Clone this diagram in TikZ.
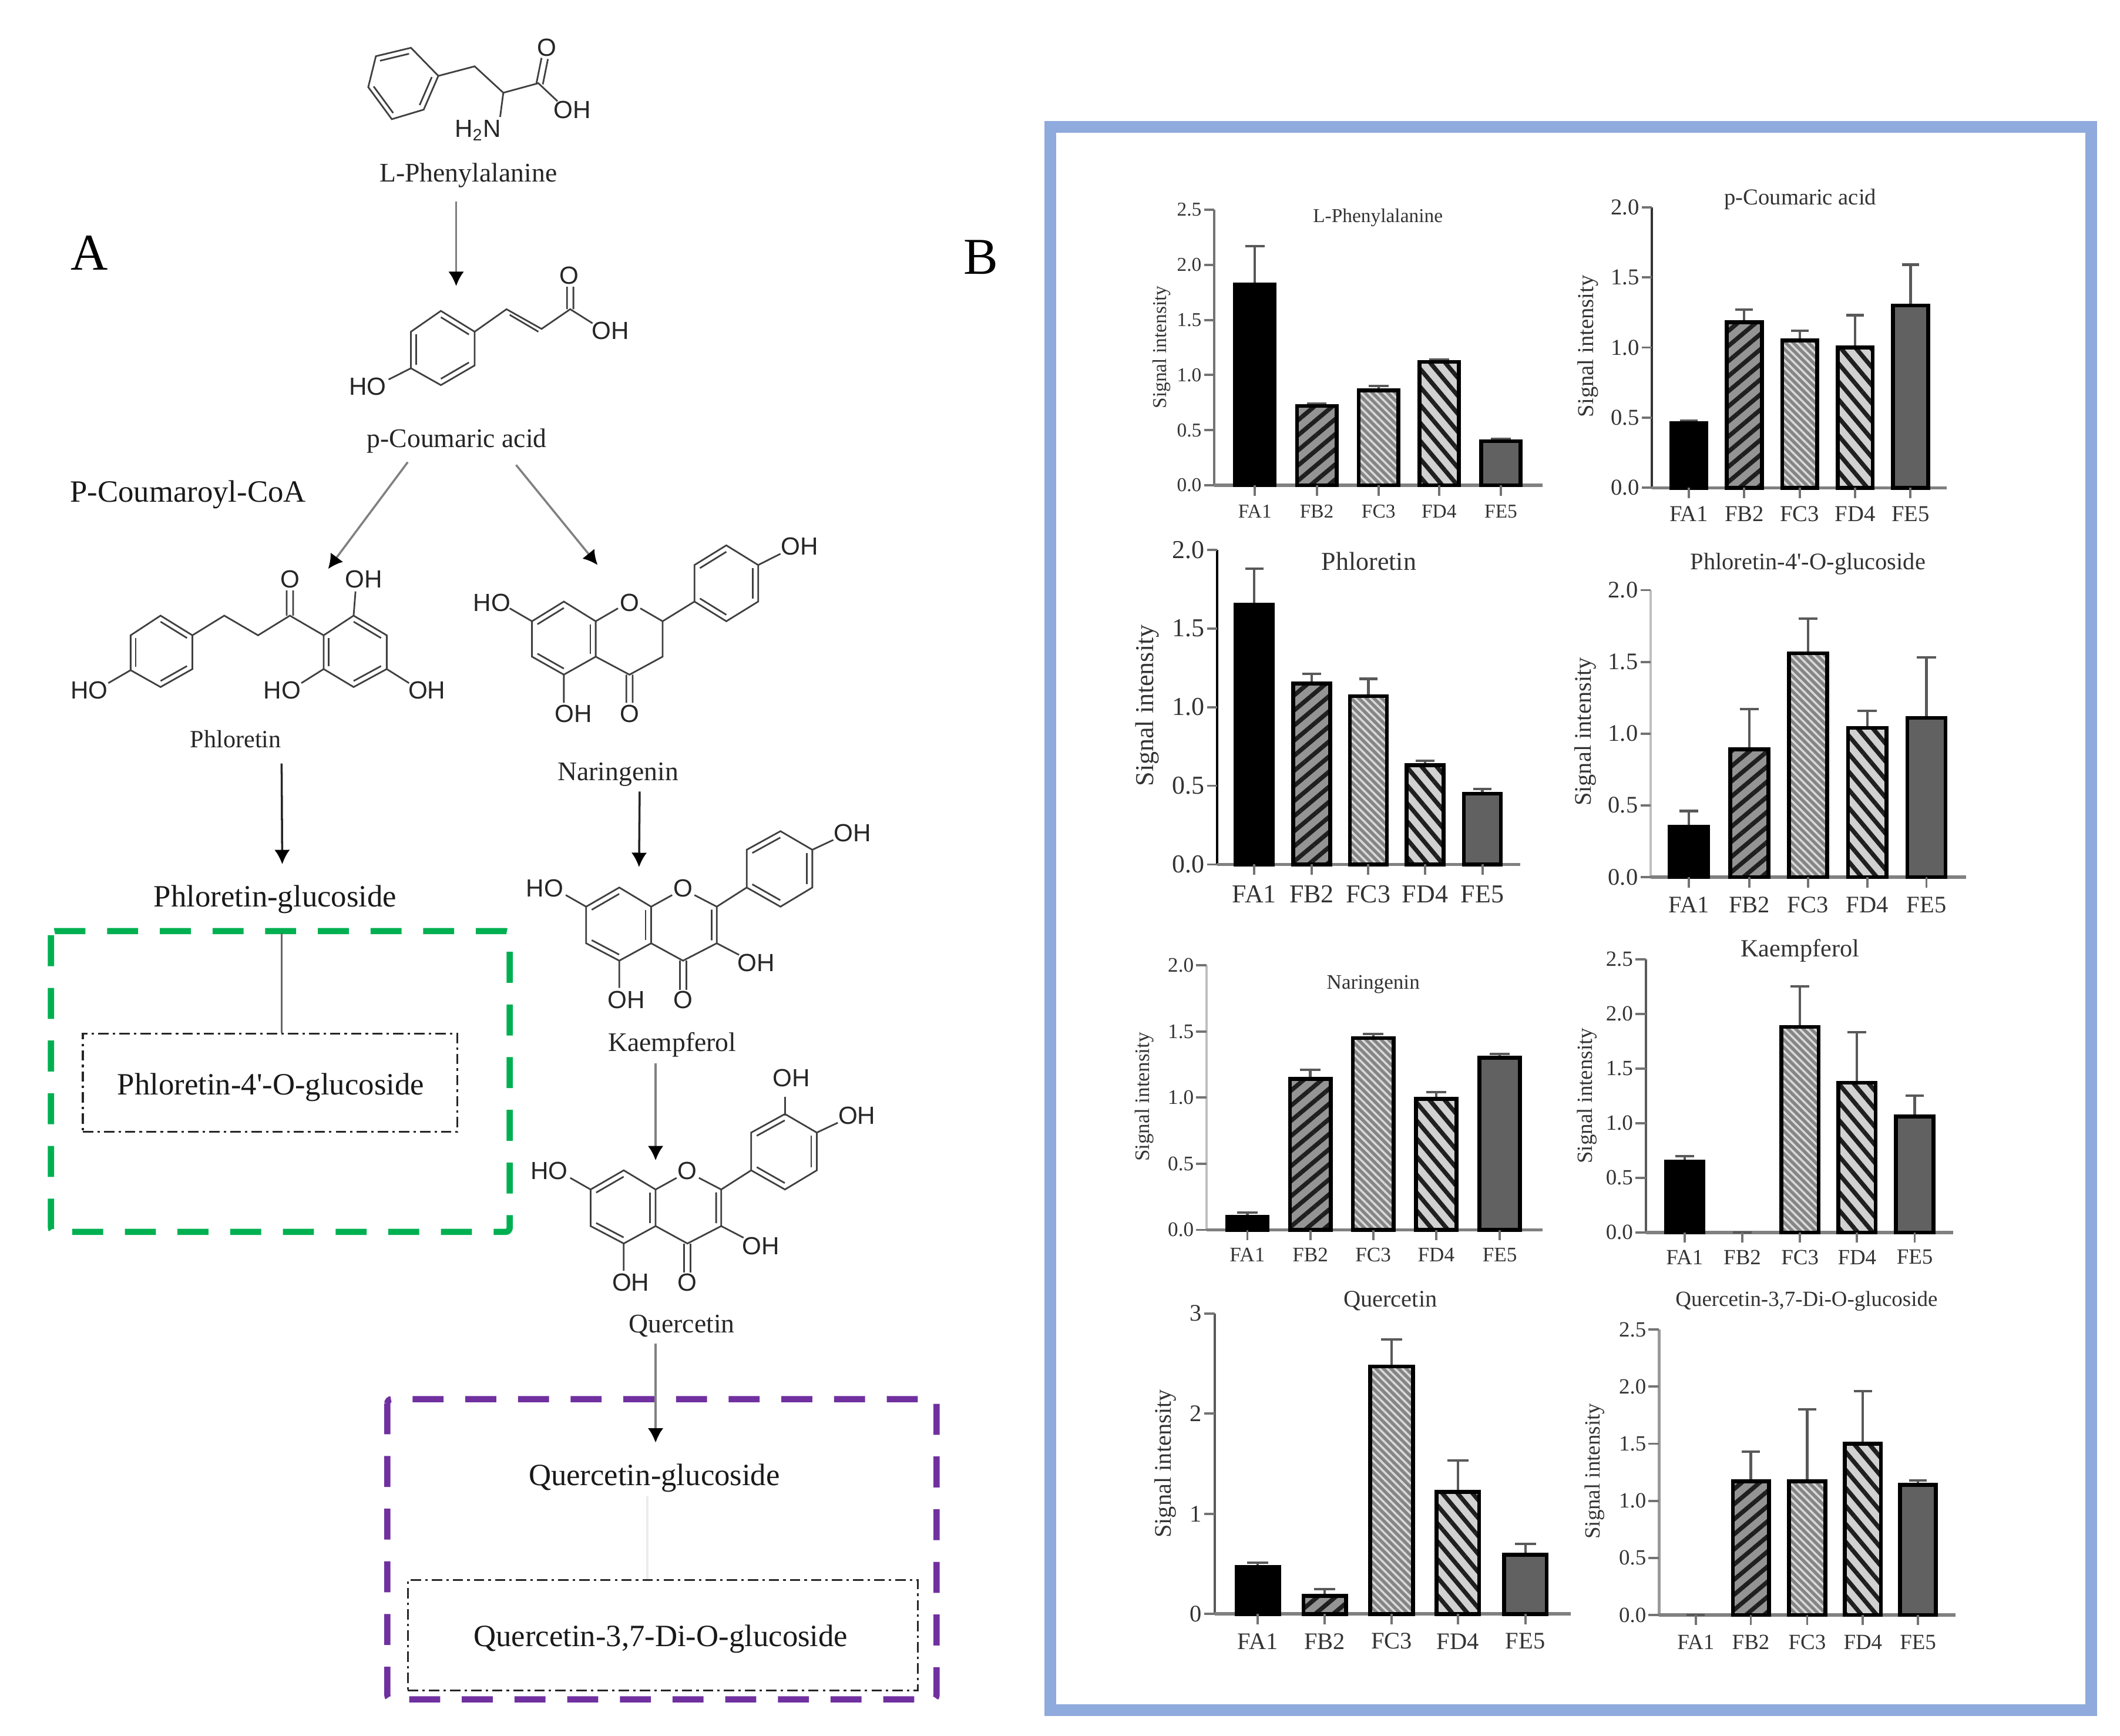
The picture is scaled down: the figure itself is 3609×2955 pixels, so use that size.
\documentclass[tikz,border=0pt]{standalone}
\usepackage{fontspec}
\setmainfont{Liberation Serif}[Ligatures=TeXOff]
\newfontfamily\atomfont{Liberation Sans}
\usetikzlibrary{calc,fit,patterns.meta,arrows.meta}
\definecolor{frameblue}{HTML}{8FAADC}
\definecolor{boxgreen}{HTML}{00B050}
\definecolor{boxpurple}{HTML}{7030A0}
\tikzset{
  bondline/.style={draw=black!75,line width=.8pt},
  atom/.style={font=\atomfont\fontsize{12}{12}\selectfont,inner sep=0pt,text=black!85},
  molname/.style={font=\fontsize{13}{13}\selectfont,inner sep=1pt,text=black!85,yshift=-1.2pt},
  bigname/.style={font=\fontsize{15}{15}\selectfont,inner sep=1pt,text=black!90,yshift=-1.2pt},
  arrline/.style={draw=black!50,line width=1pt,-{Latex[black,length=7pt,width=7.5pt]}},
  dotbox/.style={draw=black!85,dash pattern=on 5pt off 2pt on 1.2pt off 2pt,line width=.9pt,inner sep=0pt},
  chtext/.style={font=\fontsize{\chsz}{\chsz}\selectfont,text=black!80,inner sep=1pt},
  axisline/.style={draw=black!50,line width=1.6pt},
  yaxisline/.style={draw=black!55,line width=1.1pt},
  tickline/.style={draw=black!55,line width=1.1pt},
  errline/.style={draw=black!65,line width=1.2pt},
  fbar1/.style={draw=black,line width=1.9pt,fill=black},
  fbar2/.style={draw=black,line width=1.9pt,preaction={fill=black!42},pattern={Lines[angle=40,distance=5.6pt,line width=2.1pt]},pattern color=black!88},
  fbar3/.style={draw=black,line width=1.9pt,preaction={fill=black!48},pattern={Lines[angle=-45,distance=2.6pt,line width=1pt]},pattern color=black!15},
  fbar4/.style={draw=black,line width=1.9pt,preaction={fill=black!18},pattern={Lines[angle=-50,distance=5.6pt,line width=2.1pt]},pattern color=black!88},
  fbar5/.style={draw=black,line width=1.9pt,fill=black!62},
}
% hexagon with three inner bonds
\newcommand{\benzring}[6]{
  \coordinate (rc) at ($#1!.5!#4$);
  \draw[bondline] #1 -- #2 -- #3 -- #4 -- #5 -- #6 -- cycle;
  \draw[bondline] ($#1!.17!(rc)$) -- ($#2!.17!(rc)$);
  \draw[bondline] ($#3!.17!(rc)$) -- ($#4!.17!(rc)$);
  \draw[bondline] ($#5!.17!(rc)$) -- ($#6!.17!(rc)$);
}
% skeleton shared by Kaempferol and Quercetin
\newcommand{\flavonol}[1]{
  \benzring{(920,145)}{(972,112)}{(1022,145)}{(1022,208)}{(972,238)}{(920,208)}
  \benzring{(1172,47)}{(1225,15)}{(1275,47)}{(1275,112)}{(1225,145)}{(1172,112)}
  \draw[bondline] (920,145) -- (888,125) (1022,145) -- (1055,125) (1090,125) -- (1125,145) -- (1125,208) -- (1072,238) -- (1022,208);
  \draw[bondline] (1117,150) -- (1117,203) (1125,145) -- (1172,112) (1125,208) -- (1160,228) (972,238) -- (972,285) (1275,47) -- (1308,30);
  \draw[bondline] (1067,238) -- (1067,288) (1077,238) -- (1077,288);
  \node[atom] (#1ho) at (855,113) {HO};
  \node[atom] (#1o) at (1072,113) {O};
  \node[atom] (#1oh) at (983,305) {OH};
  \node[atom] (#1ok) at (1072,305) {O};
  \node[atom] (#1oh2) at (1187,242) {OH};
  \node[atom] (#1oh3) at (1338,18) {OH};
}
% axes of one chart: name, x0, ytop, ybase, xend, ymax, ticks, font size
\newcommand{\sigaxes}[8]{
  \def\chn{#1}\def\chy{#4}\def\chsz{#8}
  \pgfmathsetmacro\chs{(#4-#3)/#6}
  \draw[yaxisline] (#2,#3) -- (#2,#4);
  \draw[axisline] (#2,#4) -- (#5,#4);
  \foreach \tickv/\tickl [count=\i] in {#7}{
    \pgfmathsetmacro\yt{#4-\tickv*\chs}
    \draw[tickline] (#2,\yt) -- (#2-16,\yt);
    \node[chtext,left] (#1t\i) at (#2-16,\yt) {\tickl};
  }
}
% bars of one chart: bar width, label y, x/value/error top
\newcommand{\sigbars}[3]{
  \foreach \xc/\val/\err [count=\i] in {#3}{
    \pgfmathsetmacro\ybar{\chy-\val*\chs}
    \pgfmathsetmacro\yerr{\chy-\err*\chs}
    \pgfmathsetmacro\xl{\xc-#1/2}
    \pgfmathsetmacro\xr{\xc+#1/2}
    \draw[errline] (\xc,\ybar) -- (\xc,\yerr) (\xc-#1/4,\yerr) -- (\xc+#1/4,\yerr);
    \ifdim\val pt>0pt \draw[fbar\i] (\xl,\chy) rectangle (\xr,\ybar); \fi
    \draw[tickline] (\xc,\chy) -- (\xc,\chy+20);
    \node[chtext] (\chn\i) at (\xc,#2) {\ifcase\i\or FA1\or FB2\or FC3\or FD4\or FE5\fi};
  }
}
\begin{document}
\begin{tikzpicture}[x=.01cm,y=-.01cm]
\useasboundingbox (0,0) rectangle (3609,2955);

% pathway, upper part
\begin{scope}[xscale=1.0846,yscale=.957]
\node[font=\fontsize{25}{25}\selectfont] (nA) at (140,450) {A};
\node[font=\fontsize{25}{25}\selectfont] (nB) at (1540,458) {B};
\benzring{(590,100)}{(645,85)}{(688,135)}{(665,195)}{(615,212)}{(578,155)}
\draw[bondline] (688,135) -- (745,118) -- (790,165) -- (845,148) -- (875,180) (790,165) -- (785,208);
\draw[bondline] (842,148) -- (850,103) (852,150) -- (860,105);
\node[atom] (phO) at (858,85) {O};
\node[atom] (phOH) at (898,195) {OH};
\node[atom] (phN) at (750,232) {H\textsubscript{2}N};
\node[molname] (nPhe) at (735,308) {L-Phenylalanine};

\benzring{(692,553)}{(745,590)}{(745,650)}{(692,685)}{(645,655)}{(645,590)}
\draw[bondline] (745,590) -- (795,550) -- (850,585) -- (895,550) -- (930,575) (645,655) -- (610,675);
\draw[bondline] (800,560) -- (845,590) (890,550) -- (890,510) (900,550) -- (900,510);
\node[atom] (cuO) at (893,490) {O};
\node[atom] (cuOH) at (958,588) {OH};
\node[atom] (cuHO) at (577,688) {HO};
\node[molname] (nCou) at (717,780) {p-Coumaric acid};
\node[bigname] (nCoA) at (295,875) {P-Coumaroyl-CoA};

\benzring{(252,1095)}{(302,1130)}{(302,1190)}{(252,1222)}{(205,1192)}{(205,1130)}
\benzring{(555,1095)}{(607,1130)}{(607,1190)}{(555,1222)}{(508,1190)}{(508,1130)}
\draw[bondline] (302,1130) -- (352,1095) -- (405,1130) -- (455,1095) -- (508,1130) (205,1192) -- (170,1215);
\draw[bondline] (450,1095) -- (450,1050) (460,1095) -- (460,1050) (555,1095) -- (558,1052) (508,1190) -- (473,1215) (607,1190) -- (642,1215);
\node[atom] (plO) at (455,1030) {O};
\node[atom] (plOH) at (571,1030) {OH};
\node[atom] (plHO) at (140,1228) {HO};
\node[atom] (plHO2) at (443,1228) {HO};
\node[atom] (plOH2) at (670,1228) {OH};
\node[molname,font=\fontsize{12}{12}\selectfont] (nPhl) at (370,1310) {Phloretin};

\benzring{(835,1105)}{(885,1070)}{(935,1105)}{(935,1168)}{(885,1200)}{(835,1168)}
\benzring{(1090,1005)}{(1140,970)}{(1190,1005)}{(1190,1070)}{(1140,1105)}{(1090,1070)}
\draw[bondline] (835,1105) -- (800,1082) (935,1105) -- (970,1082) (1005,1082) -- (1040,1105) -- (1040,1168) -- (988,1200) -- (935,1168);
\draw[bondline] (983,1200) -- (983,1250) (993,1200) -- (993,1250) (885,1200) -- (885,1250) (1040,1105) -- (1090,1070) (1190,1005) -- (1225,985);
\node[atom] (naHO) at (772,1072) {HO};
\node[atom] (naO) at (988,1072) {O};
\node[atom] (naOH) at (900,1270) {OH};
\node[atom] (naOk) at (988,1270) {O};
\node[atom] (naOH2) at (1255,972) {OH};
\node[molname] (nNar) at (970,1373) {Naringenin};

\coordinate (a1s) at (716,358);
\coordinate (a1e) at (716,509);
\coordinate (a2s) at (640,822);
\coordinate (a2e) at (515,1012);
\coordinate (a3s) at (810,827);
\coordinate (a3e) at (938,1005);
\coordinate (a4s) at (442,1358);
\coordinate (a5s) at (1004,1408);
\end{scope}

% pathway, lower part
\begin{scope}[shift={(0,1400)},xscale=1.0846,yscale=.9885]
\coordinate (a4e) at (443,72);
\coordinate (a5e) at (1003,77);
\node[bigname] (nPhG) at (432,128) {Phloretin-glucoside};
\draw[boxgreen,line width=3pt,dash pattern=on 15pt off 10.5pt,rounded corners=2pt] (80,187) rectangle (800,705);
\coordinate (g1) at (130,364);
\coordinate (g2) at (718,533);
\node[dotbox,fit=(g1)(g2)] (bPh4) {};
\node[bigname] (nPh4) at (425,452) {Phloretin-4'-O-glucoside};
\coordinate (l1s) at (442,190);
\draw[draw=black!60,line width=1pt] (l1s) -- (l1s |- bPh4.north);

\flavonol{ka}
\node[molname] (nKae) at (1055,378) {Kaempferol};
\begin{scope}[shift={(7,487)}]
\flavonol{qu}
\end{scope}
\draw[bondline] (1232,505) -- (1232,472);
\node[atom] (quOH4) at (1242,440) {OH};
\node[molname] (nQue) at (1070,863) {Quercetin};
\coordinate (a6s) at (1029,415);
\coordinate (a6e) at (1029,582);
\coordinate (a7s) at (1029,897);
\coordinate (a7e) at (1029,1068);

\draw[boxpurple,line width=3pt,dash pattern=on 15pt off 10.5pt,rounded corners=2pt] (608,993) rectangle (1470,1510);
\node[bigname] (nQuG) at (1027,1125) {Quercetin-glucoside};
\coordinate (p1) at (640,1305);
\coordinate (p2) at (1440,1495);
\node[dotbox,fit=(p1)(p2)] (bQu3) {};
\node[bigname] (nQu3) at (1037,1402) {Quercetin-3,7-Di-O-glucoside};
\coordinate (l2s) at (1016,1160);
\draw[draw=black!8,line width=1pt] (l2s) -- (l2s |- bQu3.north);
\end{scope}

\draw[arrline] (a1s) -- (a1e);
\draw[arrline] (a2s) -- (a2e);
\draw[arrline] (a3s) -- (a3e);
\draw[arrline,draw=black!85] (a4s) -- (a4e);
\draw[arrline,draw=black!85] (a5s) -- (a5e);
\draw[arrline] (a6s) -- (a6e);
\draw[arrline] (a7s) -- (a7e);

% panel B
\draw[frameblue,line width=5.6pt] (1788,216) rectangle (3560,2911);

\begin{scope}[shift={(1850,250)},xscale=1.0846,yscale=.8929]
\sigaxes{c1}{200}{120}{645}{715}{2.5}{0/0.0,0.5/0.5,1/1.0,1.5/1.5,2/2.0,2.5/2.5}{9.5}
\sigbars{62}{695}{264/1.82/2.17,361/.72/.74,458/.86/.90,553/1.12/1.14,650/.40/.42}
\node[chtext,yshift=-.8pt] (c1title) at (457,132) {L-Phenylalanine};
\node[chtext,rotate=90] (c1y) at (118,382) {Signal intensity};

\tikzset{yaxisline/.style={draw=black!80,line width=1.1pt}}
\sigaxes{c2}{887}{115}{650}{1350}{2}{0/0.0,0.5/0.5,1/1.0,1.5/1.5,2/2.0}{11}
\sigbars{55}{700}{945/.46/.48,1032/1.18/1.27,1119/1.05/1.12,1206/1.0/1.23,1293/1.3/1.59}
\node[chtext,yshift=-.8pt] (c2title) at (1120,97) {p-Coumaric acid};
\node[chtext,rotate=90] (c2y) at (787,380) {Signal intensity};

\tikzset{yaxisline/.style={draw=black,line width=1.1pt}}
\sigaxes{c3}{205}{768}{1368}{680}{2}{0/0.0,0.5/0.5,1/1.0,1.5/1.5,2/2.0}{12.5}
\sigbars{58}{1425}{263/1.65/1.88,353/1.15/1.21,442/1.07/1.18,531/.63/.66,621/.45/.48}
\node[chtext] (c3title) at (443,790) {Phloretin};
\node[chtext,rotate=90] (c3y) at (95,1065) {Signal intensity};

\tikzset{yaxisline/.style={draw=black!25,line width=1.1pt}}
\sigaxes{c4}{885}{845}{1392}{1380}{2}{0/0.0,0.5/0.5,1/1.0,1.5/1.5,2/2.0}{11.5}
\sigbars{60}{1445}{945/.35/.46,1040/.89/1.17,1132/1.56/1.80,1225/1.04/1.16,1318/1.11/1.53}
\node[chtext] (c4title) at (1132,795) {Phloretin-4'-O-glucoside};
\node[chtext,rotate=90] (c4y) at (783,1115) {Signal intensity};
\end{scope}

\begin{scope}[shift={(1850,1600)},xscale=1.116,yscale=.8613]
\tikzset{yaxisline/.style={draw=black!25,line width=1.1pt}}
\sigaxes{c5}{183}{50}{573}{695}{2}{0/0.0,0.5/0.5,1/1.0,1.5/1.5,2/2.0}{10}
\sigbars{62}{622}{245/.10/.13,341/1.14/1.21,437/1.45/1.48,533/.99/1.04,630/1.30/1.33}
\node[chtext,yshift=-.8pt] (c5title) at (437,85) {Naringenin};
\node[chtext,rotate=90] (c5y) at (88,310) {Signal intensity};

\tikzset{yaxisline/.style={draw=black!65,line width=1.1pt}}
\sigaxes{c6}{853}{38}{578}{1322}{2.5}{0/0.0,0.5/0.5,1/1.0,1.5/1.5,2/2.0,2.5/2.5}{10.5}
\sigbars{57}{627}{912/.65/.70,1000/0/0,1088/1.88/2.25,1175/1.37/1.83,1263/1.06/1.25}
\node[chtext,font=\fontsize{12}{12}\selectfont,yshift=-.8pt] (c6title) at (1088,18) {Kaempferol};
\node[chtext,rotate=90] (c6y) at (763,308) {Signal intensity};

\sigaxes{c7}{195}{738}{1332}{738}{3}{0/0,1/1,2/2,3/3}{11.5}
\sigbars{65}{1386}{261/.47/.51,363/.18/.25,465/2.47/2.74,566/1.22/1.53,669/.59/.70}
\node[chtext,yshift=-.8pt] (c7title) at (463,710) {Quercetin};
\node[chtext,rotate=90] (c7y) at (120,1035) {Signal intensity};

\tikzset{yaxisline/.style={draw=black!40,line width=1.3pt}}
\sigaxes{c8}{873}{770}{1334}{1325}{2.5}{0/0.0,0.5/0.5,1/1.0,1.5/1.5,2/2.0,2.5/2.5}{10.5}
\sigbars{55}{1388}{929/0/0,1013/1.17/1.43,1099/1.17/1.80,1184/1.5/1.96,1268/1.14/1.18}
\node[chtext,yshift=-.8pt] (c8title) at (1098,710) {Quercetin-3,7-Di-O-glucoside};
\node[chtext,rotate=90] (c8y) at (775,1050) {Signal intensity};
\end{scope}
\end{tikzpicture}
\end{document}
